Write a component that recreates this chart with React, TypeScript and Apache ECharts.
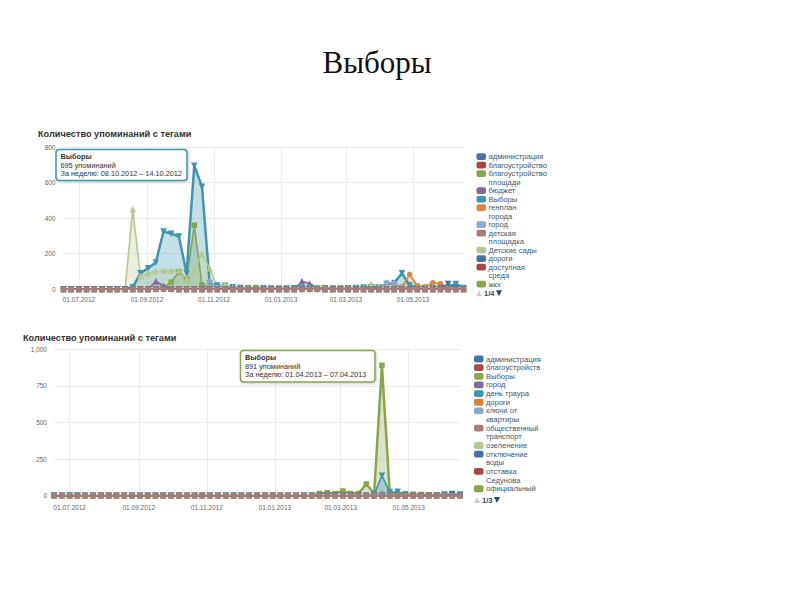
import React, { useEffect, useRef } from "react";
import * as echarts from "echarts";

// ---------- categories ----------
const weekEnds = [
  "17.06.2012", "24.06.2012", "01.07.2012", "08.07.2012", "15.07.2012", "22.07.2012", "29.07.2012",
  "05.08.2012", "12.08.2012", "19.08.2012", "26.08.2012", "02.09.2012", "09.09.2012", "16.09.2012",
  "23.09.2012", "30.09.2012", "07.10.2012", "14.10.2012", "21.10.2012", "28.10.2012", "04.11.2012",
  "11.11.2012", "18.11.2012", "25.11.2012", "02.12.2012", "09.12.2012", "16.12.2012", "23.12.2012",
  "30.12.2012", "06.01.2013", "13.01.2013", "20.01.2013", "27.01.2013", "03.02.2013", "10.02.2013",
  "17.02.2013", "24.02.2013", "03.03.2013", "10.03.2013", "17.03.2013", "24.03.2013", "31.03.2013",
  "07.04.2013", "14.04.2013", "21.04.2013", "28.04.2013", "05.05.2013", "12.05.2013", "19.05.2013",
  "26.05.2013", "02.06.2013", "09.06.2013", "16.06.2013",
];
const axisDates = ["01.07.2012", "01.09.2012", "01.11.2012", "01.01.2013", "01.03.2013", "01.05.2013"];
const yTicks1 = [0, 200, 400, 600, 800];
const yTicks2 = [0, 250, 500, 750, 1000];

const slideTitle = "Выборы";
const chartTitle = "Количество упоминаний с тегами";

const palette = ["#4572A7", "#AA4643", "#89A54E", "#80699B", "#3D96AE", "#DB843D", "#92A8CD", "#A47D7C", "#B5CA92"];
const markerShapes = ["circle", "diamond", "rect", "triangle", "triangle-down"];

// ---------- chart 1 ----------
const names1 = [
  "администрация", "благоустройство", "благоустройство площади", "бюджет", "Выборы", "генплан города",
  "город", "детская площадка", "Детские сады", "дороги", "доступная среда", "жкх",
];
const c1Administraciya = [
  0, 0, 0, 0, 0, 0, 0, 0, 0, 0, 0, 0, 0, 0, 0, 0, 0, 0, 0, 0, 0, 0, 0, 0, 0, 0, 0,
  0, 0, 0, 0, 0, 0, 0, 0, 0, 0, 0, 0, 0, 0, 0, 0, 8, 12, 5, 0, 0, 0, 0, 0, 0, 0,
];
const c1Blagoustroystvo = [
  0, 0, 0, 0, 0, 0, 0, 0, 0, 0, 0, 0, 0, 0, 0, 0, 0, 0, 0, 0, 0, 0, 0, 0, 0, 0, 0,
  0, 0, 0, 0, 0, 0, 0, 0, 5, 0, 0, 0, 0, 0, 0, 0, 0, 6, 0, 0, 0, 0, 0, 0, 0, 0,
];
const c1BlagPloshchadi = [
  0, 0, 0, 0, 0, 0, 0, 0, 0, 0, 0, 0, 0, 10, 40, 98, 55, 360, 25, 5, 0, 0, 0, 0, 0, 0, 0,
  0, 0, 0, 0, 0, 0, 0, 0, 0, 0, 0, 0, 0, 0, 0, 0, 0, 0, 0, 0, 0, 0, 0, 0, 0, 0,
];
const c1Byudzhet = [
  0, 0, 0, 0, 0, 0, 0, 0, 0, 0, 0, 0, 45, 20, 5, 0, 0, 0, 0, 0, 0, 0, 0, 0, 0, 0, 0,
  0, 0, 0, 0, 45, 33, 5, 0, 0, 0, 0, 0, 0, 0, 0, 0, 0, 0, 0, 0, 0, 0, 0, 0, 0, 0,
];
const c1Vybory = [
  0, 0, 0, 0, 0, 0, 0, 0, 0, 12, 90, 118, 150, 325, 313, 297, 90, 695, 577, 35, 22, 20, 12, 8, 6, 5, 6,
  5, 4, 5, 6, 8, 6, 5, 6, 5, 4, 6, 8, 10, 12, 10, 30, 35, 90, 22, 10, 8, 8, 10, 12, 30, 8,
];
const c1Genplan = [
  0, 0, 0, 0, 0, 0, 0, 0, 0, 0, 0, 0, 0, 0, 0, 0, 0, 0, 0, 0, 0, 0, 0, 0, 0, 0, 0,
  0, 0, 0, 0, 0, 0, 0, 0, 0, 0, 0, 0, 0, 0, 0, 0, 10, 15, 84, 20, 15, 37, 32, 8, 0, 0,
];
const c1Gorod = [
  0, 0, 0, 0, 0, 0, 0, 0, 0, 0, 0, 0, 0, 0, 0, 0, 0, 0, 0, 45, 10, 0, 0, 0, 0, 0, 0,
  0, 0, 0, 0, 0, 0, 0, 0, 0, 0, 0, 0, 0, 0, 0, 37, 35, 10, 0, 0, 0, 0, 0, 0, 0, 0,
];
const c1DetPloshchadka = [
  0, 0, 0, 0, 0, 0, 0, 0, 0, 0, 0, 0, 0, 0, 0, 0, 0, 0, 0, 0, 0, 0, 0, 0, 0, 0, 0,
  0, 0, 0, 0, 0, 0, 0, 0, 0, 0, 0, 0, 0, 0, 0, 0, 0, 0, 0, 0, 0, 0, 0, 0, 0, 0,
];
const c1DetSady = [
  0, 0, 0, 0, 0, 0, 0, 0, 0, 450, 75, 90, 103, 105, 105, 105, 58, 110, 200, 118, 10, 30, 10, 5, 8, 5, 8,
  5, 8, 5, 5, 5, 8, 10, 8, 5, 5, 8, 10, 12, 30, 18, 10, 5, 8, 5, 8, 10, 8, 5, 5, 5, 5,
];
const c1Dorogi = [
  0, 0, 0, 0, 0, 0, 0, 0, 0, 0, 0, 0, 0, 0, 0, 0, 0, 0, 0, 0, 0, 0, 0, 0, 0, 0, 0,
  0, 0, 0, 0, 0, 0, 0, 0, 0, 0, 0, 0, 0, 0, 0, 0, 0, 0, 0, 0, 0, 0, 5, 30, 5, 0,
];
const c1DostSreda = [
  0, 0, 0, 0, 0, 0, 0, 0, 0, 0, 0, 0, 0, 0, 0, 0, 0, 0, 0, 0, 0, 0, 0, 0, 0, 0, 0,
  0, 0, 0, 0, 0, 0, 0, 0, 0, 5, 0, 0, 0, 0, 0, 0, 0, 0, 0, 0, 0, 0, 0, 0, 0, 0,
];
const c1Zhkh = [
  0, 0, 0, 0, 0, 0, 0, 0, 0, 0, 0, 0, 0, 0, 0, 0, 0, 0, 0, 0, 0, 0, 0, 0, 8, 10, 0,
  0, 0, 0, 0, 0, 0, 8, 10, 0, 0, 8, 0, 0, 0, 0, 0, 0, 0, 0, 0, 0, 0, 0, 0, 0, 0,
];
const data1 = [
  c1Administraciya, c1Blagoustroystvo, c1BlagPloshchadi, c1Byudzhet, c1Vybory, c1Genplan,
  c1Gorod, c1DetPloshchadka, c1DetSady, c1Dorogi, c1DostSreda, c1Zhkh,
];

// ---------- chart 2 ----------
const names2 = [
  "администрация", "благоустройств", "Выборы", "город", "день траура", "дороги",
  "ключи от квартиры", "общественный транспорт", "озеленение", "отключение воды", "отставка Седунова", "официальный",
];
const c2Administraciya = [
  0, 0, 0, 0, 0, 0, 0, 0, 0, 0, 0, 0, 0, 0, 0, 0, 0, 0, 0, 0, 0, 0, 0, 0, 0, 0, 0,
  0, 0, 0, 0, 0, 0, 0, 0, 0, 0, 0, 0, 0, 0, 0, 0, 0, 0, 0, 0, 0, 0, 0, 0, 0, 0,
];
const c2Blagoustroystvo = [
  0, 0, 0, 0, 0, 0, 0, 0, 0, 0, 0, 0, 0, 0, 0, 0, 0, 0, 0, 0, 0, 0, 0, 0, 0, 0, 0,
  0, 0, 0, 0, 0, 0, 0, 0, 0, 0, 0, 0, 0, 0, 0, 0, 0, 0, 0, 0, 0, 0, 0, 0, 0, 0,
];
const c2Vybory = [
  0, 0, 0, 0, 0, 0, 0, 0, 0, 0, 0, 0, 0, 0, 0, 0, 0, 0, 0, 0, 0, 0, 0, 0, 0, 0, 0,
  0, 0, 0, 0, 0, 0, 0, 15, 20, 15, 32, 15, 15, 80, 15, 891, 20, 15, 12, 10, 8, 6, 5, 8, 5, 5,
];
const c2Gorod = [
  0, 0, 0, 0, 0, 0, 0, 0, 0, 0, 0, 0, 0, 0, 0, 0, 0, 0, 0, 0, 0, 0, 0, 0, 0, 0, 0,
  0, 0, 0, 0, 0, 0, 0, 0, 0, 0, 0, 0, 0, 0, 0, 0, 0, 0, 0, 0, 0, 0, 0, 0, 0, 0,
];
const c2DenTraura = [
  0, 0, 0, 0, 0, 0, 0, 0, 0, 0, 0, 0, 0, 0, 0, 0, 0, 0, 0, 0, 0, 0, 0, 0, 0, 0, 0,
  0, 0, 0, 0, 0, 0, 0, 0, 0, 0, 0, 0, 0, 0, 10, 137, 25, 27, 8, 0, 0, 0, 0, 8, 12, 8,
];
const c2Dorogi = [
  0, 0, 0, 0, 0, 0, 0, 0, 0, 0, 0, 0, 0, 0, 0, 0, 0, 0, 0, 0, 0, 0, 0, 0, 0, 0, 0,
  0, 0, 0, 0, 0, 0, 0, 0, 0, 0, 0, 0, 0, 0, 0, 0, 0, 5, 0, 8, 0, 6, 0, 0, 0, 0,
];
const c2Klyuchi = [
  0, 0, 0, 0, 0, 0, 0, 0, 0, 0, 0, 0, 0, 0, 0, 0, 0, 0, 0, 0, 0, 0, 0, 0, 0, 0, 0,
  0, 0, 0, 0, 0, 0, 0, 0, 0, 0, 0, 0, 0, 0, 0, 20, 5, 0, 0, 0, 0, 0, 0, 0, 0, 0,
];
const c2Transport = [
  0, 0, 0, 0, 0, 0, 0, 0, 0, 0, 0, 0, 0, 0, 0, 0, 0, 0, 0, 0, 0, 0, 0, 0, 0, 0, 0,
  0, 0, 0, 0, 0, 0, 0, 0, 0, 0, 0, 0, 0, 0, 0, 0, 0, 0, 0, 0, 0, 0, 0, 0, 0, 0,
];
const c2Ozelenenie = [
  0, 0, 0, 0, 0, 0, 0, 0, 0, 0, 0, 0, 0, 0, 0, 0, 0, 0, 0, 0, 0, 0, 0, 0, 0, 0, 0,
  0, 0, 0, 0, 0, 0, 0, 0, 0, 0, 0, 0, 0, 0, 0, 0, 0, 0, 5, 0, 0, 0, 0, 0, 0, 0,
];
const c2OtklVody = [
  0, 0, 0, 0, 0, 0, 0, 0, 0, 0, 0, 0, 0, 0, 0, 0, 0, 0, 0, 0, 0, 0, 0, 0, 0, 0, 0,
  0, 0, 0, 0, 0, 0, 0, 0, 0, 0, 0, 0, 0, 0, 0, 0, 0, 0, 0, 0, 0, 0, 0, 0, 8, 0,
];
const c2Otstavka = [
  0, 0, 0, 0, 0, 0, 0, 0, 0, 0, 0, 0, 0, 0, 0, 0, 0, 0, 0, 0, 0, 0, 0, 0, 0, 0, 0,
  0, 0, 0, 0, 0, 0, 0, 0, 0, 0, 0, 0, 0, 0, 0, 0, 0, 0, 0, 0, 0, 0, 0, 0, 0, 0,
];
const c2Oficialny = [
  0, 0, 0, 0, 0, 0, 0, 0, 0, 0, 0, 0, 0, 0, 0, 0, 0, 0, 0, 0, 0, 0, 0, 0, 0, 0, 0,
  0, 0, 0, 0, 0, 0, 0, 0, 0, 0, 0, 0, 0, 0, 0, 0, 0, 0, 0, 0, 0, 0, 0, 0, 0, 0,
];
const data2 = [
  c2Administraciya, c2Blagoustroystvo, c2Vybory, c2Gorod, c2DenTraura, c2Dorogi,
  c2Klyuchi, c2Transport, c2Ozelenenie, c2OtklVody, c2Otstavka, c2Oficialny,
];

// hovered points shown in tooltips
const hoverSeries1 = 4;
const hoverPoint1 = 17;
const hoverSeries2 = 2;
const hoverPoint2 = 42;
const pageInfo1 = "1/4";
const pageInfo2 = "1/3";

// ---------- helpers ----------
function parseDate(s: string): number {
  const [d, m, y] = s.split(".").map(Number);
  return new Date(y, m - 1, d).getTime();
}
function pad(n: number) {
  return n < 10 ? "0" + n : "" + n;
}
function fmtDate(t: number): string {
  const d = new Date(t);
  return pad(d.getDate()) + "." + pad(d.getMonth() + 1) + "." + d.getFullYear();
}
function wrapName(name: string): string[] {
  const words = name.split(" ");
  const lines: string[] = [];
  let cur = "";
  for (const w of words) {
    if (!cur) cur = w;
    else if ((cur + " " + w).length <= 13) cur += " " + w;
    else {
      lines.push(cur);
      cur = w;
    }
  }
  if (cur) lines.push(cur);
  return lines;
}

const FONT = "'Liberation Sans', Arial, sans-serif";
const AXIS_FONT = "'Liberation Sans', Arial, sans-serif";

function makeSeries(names: string[], data: number[][], gi: number, hoverIdx: number, topIdx: number) {
  return names.map((name, k) => {
    const color = palette[k % palette.length];
    const shape = markerShapes[k % markerShapes.length];
    const size = shape === "rect" ? 5.5 : shape === "circle" ? 5.5 : 6.5;
    return {
      type: "line",
      name,
      xAxisIndex: gi,
      yAxisIndex: gi,
      data: data[k].map((v, i) => [parseDate(weekEnds[i]), v]),
      symbol: shape === "triangle-down" ? "triangle" : shape,
      symbolRotate: shape === "triangle-down" ? 180 : 0,
      symbolSize: size,
      showSymbol: true,
      z: k === topIdx ? 4 : 2,
      silent: true,
      lineStyle: { color, width: k === hoverIdx ? 2.5 : 1.6 },
      itemStyle: { color, borderWidth: 0 },
      areaStyle: { color, opacity: 0.3 },
      emphasis: { disabled: true },
    };
  });
}

function legendGraphics(names: string[], iconX: number, textX: number, y0: number, lh: number) {
  const els: any[] = [];
  let y = y0;
  names.forEach((name, k) => {
    const lines = wrapName(name);
    els.push({
      type: "rect",
      shape: { x: iconX, y: y - 3.4, width: 9.5, height: 6.8, r: 2 },
      style: { fill: palette[k % palette.length] },
      silent: true,
    });
    lines.forEach((ln, j) => {
      els.push({
        type: "text",
        x: textX,
        y: y + j * lh,
        style: {
          text: ln,
          fill: "#3E576F",
          fontSize: 7.6,
          fontFamily: FONT,
          align: "left",
          verticalAlign: "middle",
        },
        silent: true,
      });
    });
    y += lines.length * lh;
  });
  return els;
}

function navGraphics(x: number, y: number, info: string) {
  return [
    {
      type: "polygon",
      shape: { points: [[x, y + 3], [x + 6, y + 3], [x + 3, y - 3]] },
      style: { fill: "#cccccc" },
      silent: true,
    },
    {
      type: "text",
      x: x + 8,
      y,
      style: { text: info, fill: "#274b6d", fontSize: 7.5, fontWeight: "bold", fontFamily: FONT, align: "left", verticalAlign: "middle" },
      silent: true,
    },
    {
      type: "polygon",
      shape: { points: [[x + 20, y - 3], [x + 26, y - 3], [x + 23, y + 3]] },
      style: { fill: "#274b6d" },
      silent: true,
    },
  ];
}

function tooltipGraphics(
  x: number, y: number, w: number, h: number, color: string,
  name: string, value: number, weekEnd: string
) {
  const endT = parseDate(weekEnd);
  const startT = endT - 6 * 24 * 3600 * 1000;
  const lines = [
    { text: name, bold: true },
    { text: value + " упоминаний", bold: false },
    { text: "За неделю: " + fmtDate(startT) + " – " + weekEnd, bold: false },
  ];
  const els: any[] = [
    {
      type: "rect",
      shape: { x, y, width: w, height: h, r: 3 },
      style: {
        fill: "rgba(255,255,255,0.95)",
        stroke: color,
        lineWidth: 1.5,
        shadowBlur: 3,
        shadowColor: "rgba(0,0,0,0.2)",
        shadowOffsetX: 1,
        shadowOffsetY: 1,
      },
      silent: true,
      z: 100,
    },
  ];
  lines.forEach((ln, j) => {
    els.push({
      type: "text",
      x: x + 4.5,
      y: y + 7 + j * 8.6,
      z: 101,
      style: {
        text: ln.text,
        fill: "#333333",
        fontSize: 7.3,
        fontWeight: ln.bold ? "bold" : "normal",
        fontFamily: FONT,
        align: "left",
        verticalAlign: "middle",
      },
      silent: true,
    });
  });
  return els;
}

function makeXAxis(gi: number, labelMargin: number) {
  const ticks = axisDates.map(parseDate);
  return {
    type: "value",
    gridIndex: gi,
    min: parseDate(weekEnds[0]),
    max: parseDate(weekEnds[weekEnds.length - 1]),
    axisLine: { show: false },
    axisTick: { show: false, customValues: ticks },
    splitLine: { show: true, lineStyle: { color: "#ececec", width: 1 } },
    axisLabel: {
      customValues: ticks,
      formatter: (v: number) => fmtDate(v),
      color: "#666666",
      fontSize: 6.5,
      fontFamily: AXIS_FONT,
      margin: labelMargin,
      hideOverlap: false,
    },
  };
}

function makeYAxis(gi: number, ticks: number[], labelMargin: number) {
  return {
    type: "value",
    gridIndex: gi,
    min: ticks[0],
    max: ticks[ticks.length - 1],
    interval: ticks[1] - ticks[0],
    axisLine: { show: false },
    axisTick: { show: false },
    splitLine: { show: true, lineStyle: { color: "#ececec", width: 1 } },
    axisLabel: {
      color: "#666666",
      fontSize: 6.5,
      fontFamily: AXIS_FONT,
      margin: labelMargin,
      formatter: (v: number) => v.toLocaleString("en-US"),
    },
  };
}

export default function App() {
  const ref = useRef<HTMLDivElement>(null);
  useEffect(() => {
    if (!ref.current) return;
    const chart = echarts.init(ref.current, undefined, { renderer: "svg" });

    const graphic: any[] = [
      {
        type: "text",
        x: 377,
        y: 62,
        style: {
          text: slideTitle,
          fill: "#111111",
          fontSize: 31,
          fontFamily: "'Liberation Serif', 'DejaVu Serif', serif",
          align: "center",
          verticalAlign: "middle",
        },
        silent: true,
      },
      {
        type: "text",
        x: 38,
        y: 134,
        style: { text: chartTitle, fill: "#333333", fontSize: 9.2, fontWeight: "bold", fontFamily: AXIS_FONT, align: "left", verticalAlign: "middle" },
        silent: true,
      },
      {
        type: "text",
        x: 23,
        y: 337.5,
        style: { text: chartTitle, fill: "#333333", fontSize: 9.2, fontWeight: "bold", fontFamily: AXIS_FONT, align: "left", verticalAlign: "middle" },
        silent: true,
      },
      ...legendGraphics(names1, 476.5, 488.5, 156.7, 8.5),
      ...navGraphics(476, 293.3, pageInfo1),
      ...legendGraphics(names2, 474, 486, 359, 8.65),
      ...navGraphics(474, 500, pageInfo2),
      ...tooltipGraphics(56, 149.5, 131, 31, palette[hoverSeries1], names1[hoverSeries1],
        data1[hoverSeries1][hoverPoint1], weekEnds[hoverPoint1]),
      ...tooltipGraphics(240.5, 350.5, 134.5, 31.5, palette[hoverSeries2], names2[hoverSeries2],
        data2[hoverSeries2][hoverPoint2], weekEnds[hoverPoint2]),
    ];

    chart.setOption({
      animation: false,
      backgroundColor: "#ffffff",
      textStyle: { fontFamily: AXIS_FONT },
      grid: [
        { left: 63.5, top: 147, width: 400, height: 142.3, containLabel: false, outerBoundsMode: "none" },
        { left: 54, top: 349.3, width: 406, height: 146.4, containLabel: false, outerBoundsMode: "none" },
      ],
      xAxis: [makeXAxis(0, 7), makeXAxis(1, 8)],
      yAxis: [makeYAxis(0, yTicks1, 8), makeYAxis(1, yTicks2, 7)],
      series: [
        ...makeSeries(names1, data1, 0, hoverSeries1, 7),
        ...makeSeries(names2, data2, 1, hoverSeries2, 7),
      ],
      graphic,
    } as any);

    return () => chart.dispose();
  }, []);

  return (
    <div
      ref={ref}
      style={{ position: "fixed", left: 0, top: 0, width: 800, height: 600, background: "#fff" }}
    />
  );
}
